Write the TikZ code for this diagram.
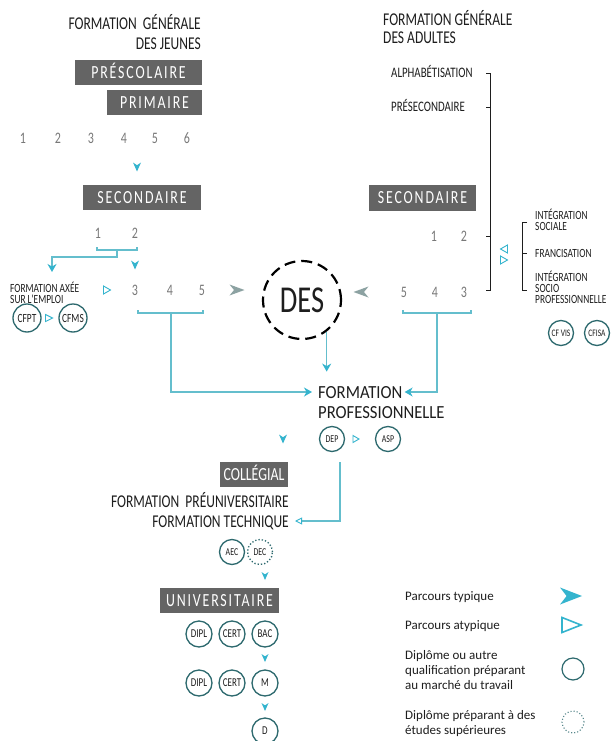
\documentclass[tikz,border=0pt]{standalone}
\usepackage{fontspec}
\setmainfont{Carlito}
\newfontfamily\hfont[FakeStretch=0.75]{Carlito}
\newfontfamily\pfont[FakeStretch=0.9]{Carlito}
\newfontfamily\bfont[FakeStretch=0.75,LetterSpace=10]{Carlito}
\usetikzlibrary{arrows.meta}
\newcommand\myfs[1]{\fontsize{#1}{#1}\selectfont}
\definecolor{tcyan}{RGB}{52,180,206}
\definecolor{tline}{RGB}{100,190,205}
\definecolor{dteal}{RGB}{45,105,110}
\definecolor{boxgray}{RGB}{100,100,100}
\definecolor{numc}{RGB}{120,120,120}
\definecolor{arrgray}{RGB}{140,162,162}
\definecolor{txtc}{RGB}{30,30,30}
\tikzset{
  pics/typ/.style args={#1/#2/#3}{code={\fill[#3] (#1/2,0) -- (-#1/2,#2/2) -- (-#1/5,0) -- (-#1/2,-#2/2) -- cycle;}},
  pics/atyp/.style args={#1/#2/#3}{code={\draw[#3, line width=0.9pt, line join=miter] (#1/2,0) -- (-#1/2,#2/2) -- (-#1/2,-#2/2) -- cycle;}},
  txt/.style={inner sep=0pt, text=txtc},
  capht/.style={text height=#1, text depth=0pt},
  num/.style={inner sep=0pt, text=numc, font=\hfont\myfs{16}},
  gbox/.style={fill=boxgray, text=white, inner sep=0pt, minimum height=25pt, text height=11.6pt, text depth=0pt, font=\bfont\myfs{18.5}},
  conn/.style={draw=tline, line width=1.1pt},
  brk/.style={draw=txtc, line width=0.7pt},
  dip/.style={circle, draw=dteal, line width=1.3pt, minimum size=25pt, inner sep=0pt, text=txtc, font=\hfont\myfs{10.5}},
  dipu/.style={dip, minimum size=26pt, font=\hfont\myfs{12}},
  dipd/.style={dip, dotted},
}
\begin{document}
\begin{tikzpicture}[x=1pt,y=-1pt]
\fill[white] (0,0) rectangle (611,741);
\useasboundingbox (0,0) rectangle (611,741);

% ---------- jeunes ----------
\node[txt,capht=12pt,anchor=base east,font=\hfont\myfs{18}] (tjA) at (201,30) {FORMATION\ \ GÉNÉRALE};
\node[txt,capht=12pt,anchor=base east,font=\hfont\myfs{18}] (tjB) at (201,50) {DES JEUNES};
\node[gbox,minimum width=127pt] (presco) at (138.5,72.5) {PRÉSCOLAIRE};
\node[gbox,minimum width=95pt] (prim) at (154.5,102.5) {PRIMAIRE};
\foreach \n/\x in {1/23,2/58,3/91,4/124,5/155,6/187} \node[num] (p\n) at (\x,138) {\n};
\pic[rotate=-90] at (137,167) {typ=9/8/tcyan};
\node[gbox,minimum width=118pt] (secL) at (142,197.5) {SECONDAIRE};
\node[num] (s1) at (98,233) {1};
\node[num] (s2) at (135,233) {2};
\draw[conn] (97,247) |- (137,250) -- (137,247);
\draw[conn,-{Stealth[length=8pt,width=9pt,inset=2.5pt,color=tcyan]}] (117,250) |- (52,257) -- (52,272);
\pic[rotate=-90] at (135,265) {typ=9/8/tcyan};
\node[txt,capht=8pt,anchor=base west,font=\hfont\myfs{12.5}] (fa1) at (10,292) {FORMATION AXÉE};
\node[txt,capht=8pt,anchor=base west,font=\hfont\myfs{12.5}] (fa2) at (10,303) {SUR L'EMPLOI};
\pic at (107,290) {atyp=7/8/tcyan};
\node[num] (s3) at (135,290) {3};
\node[num] (s4) at (170,290) {4};
\node[num] (s5) at (202,290) {5};
\draw[conn] (138,310) |- (203,313) -- (203,310);
\node[dip,minimum size=28pt,font=\hfont\myfs{12.5}] (cfpt) at (27,318) {CFPT};
\node[dip,minimum size=28pt,font=\hfont\myfs{12.5}] (cfms) at (73,318) {CFMS};
\pic at (49,318) {atyp=7/7/tcyan};

% ---------- DES ----------
\node[circle,draw=black,line width=2.2pt,dash pattern=on 11pt off 6pt,minimum size=78pt,inner sep=0pt,text=txtc,font=\hfont\myfs{38}] (DES) at (302,300) {DES};
\pic at (237,290) {typ=15/11/arrgray};
\pic[rotate=180] at (361,292) {typ=15/11/arrgray};

% ---------- adultes ----------
\node[txt,capht=12pt,anchor=base west,font=\hfont\myfs{18}] (taA) at (383,26) {FORMATION GÉNÉRALE};
\node[txt,capht=12pt,anchor=base west,font=\hfont\myfs{18}] (taB) at (383,44) {DES ADULTES};
\node[txt,capht=10pt,anchor=base west,font=\hfont\myfs{14.5}] (alpha) at (391,78) {ALPHABÉTISATION};
\node[txt,capht=10pt,anchor=base west,font=\hfont\myfs{14.5}] (presec) at (391,112) {PRÉSECONDAIRE};
\draw[brk] (486,73) -- (490,73) -- (490,290) -- (486,290);
\draw[brk] (486,107) -- (490,107);
\draw[brk] (486,236) -- (490,236);
\node[gbox,minimum width=107pt,minimum height=26pt] (secR) at (422.5,198) {SECONDAIRE};
\node[num] (a1) at (434,236) {1};
\node[num] (a2) at (464,236) {2};
\node[num] (a5) at (404,292) {5};
\node[num] (a4) at (435,292) {4};
\node[num] (a3) at (464,292) {3};
\draw[conn] (403,310) |- (471,313) -- (471,310);
\pic[rotate=180] at (504,249) {atyp=7/8/tcyan};
\pic at (504,260) {atyp=7/8/tcyan};
\draw[brk] (527,222) -- (522,222) -- (522,290) -- (527,290);
\draw[brk] (522,253) -- (527,253);
\node[txt,capht=8pt,anchor=base west,font=\hfont\myfs{12.5}] (is1) at (535,219) {INTÉGRATION};
\node[txt,capht=8pt,anchor=base west,font=\hfont\myfs{12.5}] (is2) at (535,230) {SOCIALE};
\node[txt,capht=8pt,anchor=base west,font=\hfont\myfs{12.5}] (fr) at (535,257) {FRANCISATION};
\node[txt,capht=8pt,anchor=base west,font=\hfont\myfs{12.5}] (isp1) at (535,281) {INTÉGRATION};
\node[txt,capht=8pt,anchor=base west,font=\hfont\myfs{12.5}] (isp2) at (535,292) {SOCIO};
\node[txt,capht=8pt,anchor=base west,font=\hfont\myfs{12.5}] (isp3) at (535,303) {PROFESSIONNELLE};
\node[dip,font=\hfont\myfs{10}] (cfvis) at (561,333) {CF VIS};
\node[dip,font=\hfont\myfs{10}] (cfisa) at (597,333) {CFISA};

% ---------- formation professionnelle ----------
\node[txt,capht=12pt,anchor=base west,font=\pfont\myfs{18.5}] (form1) at (318,398) {FORMATION};
\node[txt,capht=12pt,anchor=base west,font=\pfont\myfs{18.5}] (form2) at (318,418) {PROFESSIONNELLE};
\coordinate (bL) at (171,313);
\coordinate (bR) at (437,313);
\draw[conn,-{Stealth[length=8pt,width=9pt,inset=2.5pt,color=tcyan]},shorten >=6pt] (bL) |- (form1.west);
\draw[conn,-{Stealth[length=8pt,width=9pt,inset=2.5pt,color=tcyan]},shorten >=2pt] (bR) |- (form1.east);
\draw[conn,-{Stealth[length=8pt,width=9pt,inset=2.5pt,color=tcyan]}] (DES.-52) -- ++(0,40);
\node[dip] (dep) at (332,439) {DEP};
\pic at (356,439) {atyp=6/7/tcyan};
\node[dip] (asp) at (388,439) {ASP};
\pic[rotate=-90] at (283,439) {typ=9/8/tcyan};

% ---------- collegial ----------
\node[gbox,font=\hfont\myfs{18.5},minimum width=68pt] (coll) at (254,474.5) {COLLÉGIAL};
\node[txt,capht=12pt,anchor=base east,font=\hfont\myfs{18}] (fpu) at (289,507) {FORMATION\ \ PRÉUNIVERSITAIRE};
\node[txt,capht=12pt,anchor=base east,font=\hfont\myfs{18}] (ftech) at (289,527) {FORMATION TECHNIQUE};
\coordinate (dl) at (340,462);
\draw[conn,-{Triangle[open,length=7pt,width=7pt,color=tcyan,line width=0.9pt]},shorten >=6pt] (dl) |- (ftech.east);
\node[dip] (aec) at (232,552) {AEC};
\node[dipd] (dec) at (260,552) {DEC};
\pic[rotate=-90] at (265,576) {typ=8/7/tcyan};

% ---------- universitaire ----------
\node[gbox,minimum width=119pt] (univ) at (219.5,600.5) {UNIVERSITAIRE};
\node[dipu] (dipl1) at (199,634) {DIPL};
\node[dipu] (cert1) at (232,634) {CERT};
\node[dipu] (bac) at (265,634) {BAC};
\pic[rotate=-90] at (265,658) {typ=8/7/tcyan};
\node[dipu] (dipl2) at (199,683) {DIPL};
\node[dipu] (cert2) at (232,683) {CERT};
\node[dipu] (mm) at (265,683) {M};
\pic[rotate=-90] at (265,707) {typ=8/7/tcyan};
\node[dipu] (dd) at (265,731) {D};

% ---------- legend ----------
\node[txt,anchor=base west,font=\myfs{13}] (lg1) at (405,600) {Parcours typique};
\node[txt,anchor=base west,font=\myfs{13}] (lg2) at (405,629) {Parcours atypique};
\node[txt,anchor=base west,font=\myfs{13}] (lg3) at (405,659) {Diplôme ou autre};
\node[txt,anchor=base west,font=\myfs{13}] (lg4) at (405,674) {qualification préparant};
\node[txt,anchor=base west,font=\myfs{13}] (lg5) at (405,689) {au marché du travail};
\node[txt,anchor=base west,font=\myfs{13}] (lg6) at (405,719) {Diplôme préparant à des};
\node[txt,anchor=base west,font=\myfs{13}] (lg7) at (405,734) {études supérieures};
\pic at (571,596) {typ=22/17/tcyan};
\draw[tcyan,line width=1.6pt,line join=miter] (581,625) -- (562,617.5) -- (562,632.5) -- cycle;
\node[circle,draw=dteal,line width=1.2pt,minimum size=22pt,inner sep=0pt] (lc1) at (573,669) {};
\node[circle,draw=dteal!80,dotted,line width=1.1pt,minimum size=22pt,inner sep=0pt] (lc2) at (573,722) {};
\end{tikzpicture}
\end{document}
